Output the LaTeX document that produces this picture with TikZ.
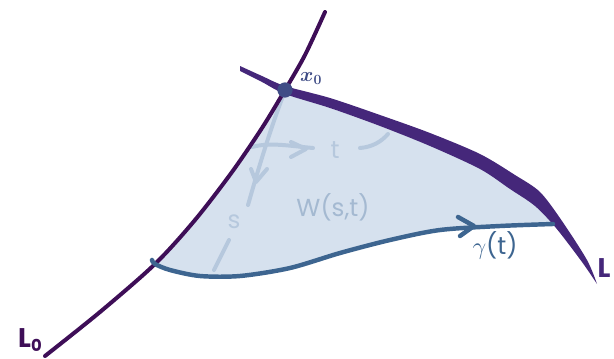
\documentclass[tikz,border=0pt]{standalone}
\usepackage{bm}
\usepackage{fontspec}
\setsansfont{Poppins}
\usepackage{tikz}
\usetikzlibrary{arrows.meta,positioning}
\definecolor{curvepurple}{HTML}{3E0E57}
\definecolor{bandpurple}{HTML}{45277A}
\definecolor{pathblue}{HTML}{3D6590}
\definecolor{regionblue}{HTML}{D6E1EE}
\definecolor{faintblue}{HTML}{B6C8DD}
\definecolor{pointblue}{HTML}{3F4C86}

\begin{document}
\begin{tikzpicture}[x=0.03cm, y=-0.03cm, font=\sffamily,
      lzero/.style={draw=curvepurple, line width=3.4pt, line cap=round},
      gamma/.style={draw=pathblue, line width=3.8pt, line cap=round, line join=round},
      faint/.style={draw=faintblue, line width=3.4pt, line cap=round, line join=round},
      lab/.style={inner sep=0pt, font=\sffamily\fontsize{21}{23}\selectfont}
    ]
    \useasboundingbox (0,0) rectangle (614,358);

    % homotopy region W(s,t)
    \fill[regionblue] plot[smooth] coordinates {(155,264) (195,220) (232,172) (262,128) (285,92)}
      -- plot[smooth] coordinates {(285,94) (330,108) (380,126) (430,145) (480,168) (510,188) (535,205) (553,224)}
      -- plot[smooth] coordinates {(553,224) (500,226) (440,230) (390,240) (340,253) (290,268) (240,276) (200,276) (170,270) (155,264)}
      -- cycle;

    % faint s and t directions
    \draw[faint] (283,96) .. controls (270,130) and (258,170) .. (248,205);
    \draw[faint] (251,169) -- (256,182) -- (267,169);
    \draw[faint] (229,240) -- (214,270);
    \draw[faint] (252,147) .. controls (270,142) and (290,146) .. (313,148);
    \draw[faint] (291,142) -- (306,149) -- (291,157);
    \draw[faint] (360,148) .. controls (372,147) and (381,142) .. (388,134);
    \node[lab, text=faintblue] (slab) at (234,222) {s};
    \node[lab, text=faintblue] (tlab) at (335,150) {t};
    \node[lab, text=faintblue!85!pathblue] (wlab) at (333,207) {W(s,t)};

    % curve L_0
    \draw[lzero] plot[smooth] coordinates {(45,356) (100,312) (155,264) (195,220) (232,172) (262,128) (285,90) (305,55) (325,12)};

    % curve L (tapered stroke)
    \fill[bandpurple] plot[smooth] coordinates {(240,66) (262,76) (285,86) (330,98) (380,115) (430,133) (480,154) (515,175) (540,192) (562,221) (587,260) (597,284)}
      -- plot[smooth] coordinates {(597,284) (582,262) (556,228) (535,206) (510,189) (480,169) (430,146) (380,126) (330,108) (285,94) (262,82) (240,71)}
      -- cycle;

    % path gamma(t)
    \draw[gamma] plot[smooth] coordinates {(553,224) (500,226) (440,230) (390,240) (340,253) (290,268) (240,276) (200,276) (170,270) (155,264) (152,260)};
    \draw[gamma] (458,217) -- (474,226) -- (460,236);

    \node[circle, fill=pointblue, minimum size=13pt, inner sep=0pt] (xo) at (285,90) {};
    \node[lab, text=pointblue, font=\fontsize{17}{20}\selectfont, above right=0pt and 8pt of xo] (xlab) {$\bm{x_0}$};
    \node[lab, text=pathblue] (glab) at (495,245) {$\gamma$(t)};
    \node[lab, text=bandpurple, font=\sffamily\bfseries\fontsize{23}{25}\selectfont] (llab) at (604,268) {L};
    \node[lab, text=curvepurple, font=\sffamily\bfseries\fontsize{23}{25}\selectfont] (lzlab) at (30,340)
      {L\raisebox{-3pt}{\fontsize{14}{14}\selectfont 0}};
  \end{tikzpicture}
\end{document}
